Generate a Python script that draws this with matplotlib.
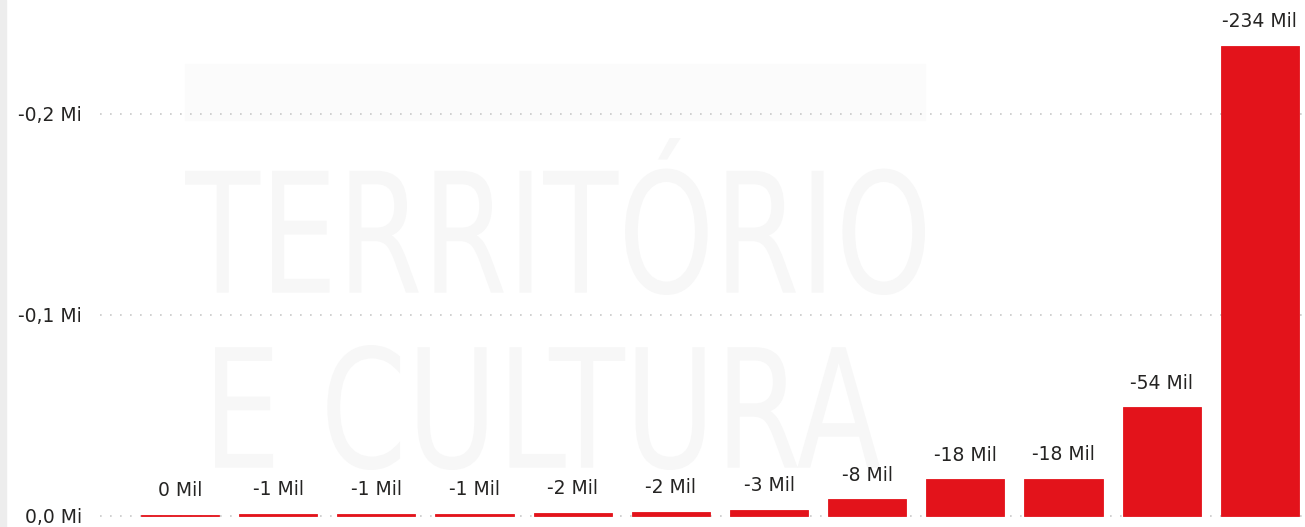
import matplotlib.pyplot as plt
from matplotlib.patches import Rectangle, PathPatch
from matplotlib.textpath import TextPath
from matplotlib.font_manager import FontProperties
from matplotlib.transforms import Affine2D, IdentityTransform

# values in thousands (negative, plotted by magnitude like the original)
categories = [f"C{i}" for i in range(1, 13)]
values_mil = [-0.45, -1.0, -1.0, -1.2, -1.6, -2.0, -3.0, -8.3, -18.2, -18.4, -54.0, -234.0]
labels = ["0 Mil", "-1 Mil", "-1 Mil", "-1 Mil", "-2 Mil", "-2 Mil", "-3 Mil",
          "-8 Mil", "-18 Mil", "-18 Mil", "-54 Mil", "-234 Mil"]
yticks = [0.0, 0.1, 0.2]
yticklabels = ["0,0 Mi", "-0,1 Mi", "-0,2 Mi"]

heights = [abs(v) / 1000 for v in values_mil]  # in millions
x = list(range(len(categories)))

W, H = 1305, 527
fig = plt.figure(figsize=(W / 100, H / 100), dpi=100)
fig.patch.set_facecolor("white")
# light panel edge on the left
fig.patches.append(Rectangle((0, 0), 6 / W, 1, transform=fig.transFigure,
                             color="#ededed", zorder=0))


def watermark(word, x0, x1, top, bottom):
    # background logo, stretched into a box given in pixels from the top-left
    tp = TextPath((0, 0), word, size=1, prop=FontProperties(family="DejaVu Sans"))
    bb = tp.get_extents()
    sx = (x1 - x0) / bb.width
    sy = (bottom - top) / bb.height
    tr = Affine2D().translate(-bb.x0, -bb.y0).scale(sx, sy).translate(x0, H - bottom)
    fig.patches.append(PathPatch(tr.transform_path(tp), transform=IdentityTransform(),
                                 facecolor="#f7f7f7", edgecolor="none", zorder=0))


fig.patches.append(Rectangle((185 / W, 1 - 120 / H), 740 / W, 56 / H,
                             transform=fig.transFigure, color="#fbfbfb", zorder=0))
watermark("TERRITÓRIO", 185, 925, 138, 295)
watermark("E CULTURA", 215, 880, 345, 470)

ax = fig.add_axes([100 / W, 0, 1205 / W, 1])
ax.set_facecolor("none")
ax.set_zorder(2)

ax.bar(x, heights, width=0.795, color="#E3131B", edgecolor="#E3131B",
       linewidth=0.6, zorder=3)

for xi, h, lab in zip(x, heights, labels):
    ax.annotate(lab, (xi, h), xytext=(0, 10.5), textcoords="offset points",
                ha="center", va="bottom", fontsize=13.5, color="#252423")

ax.set_xlim(-0.815, 11.46)
ax.set_ylim(-0.0055, 0.2567)
ax.set_yticks(yticks)
ax.set_yticklabels(yticklabels)
ax.set_xticks([])
ax.tick_params(axis="y", length=0, pad=13, labelsize=13.5, labelcolor="#252423")

ax.grid(axis="y", color="#c8c8c8", linestyle=(0, (1, 5)), linewidth=1.2, zorder=1)
for s in ax.spines.values():
    s.set_visible(False)

fig.savefig("out.png", dpi=100)
